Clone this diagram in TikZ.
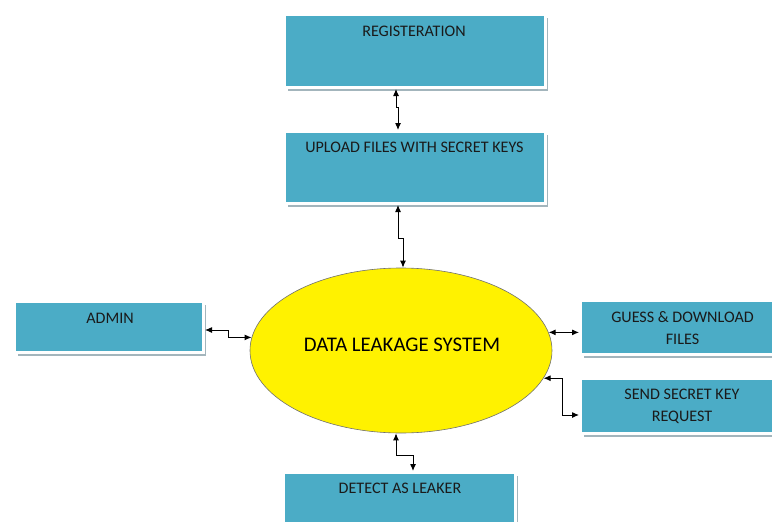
\documentclass[tikz,border=0pt]{standalone}
\usepackage{fontspec}
\setmainfont{Carlito}
\usetikzlibrary{arrows.meta,shadows,shapes.geometric}
\definecolor{boxteal}{HTML}{4BACC6}
\definecolor{framegray}{HTML}{D6D6D6}
\definecolor{shadowgray}{HTML}{A3B5BC}
\definecolor{txt}{HTML}{1A1A1A}
\definecolor{ellborder}{HTML}{707070}
\begin{document}
\begin{tikzpicture}[x=1pt,y=-1pt,
  tbox/.style={rectangle, fill=boxteal, draw=framegray, double=white,
    double distance=2.6pt, line width=0.35pt, outer sep=1.65pt, inner sep=0pt,
    drop shadow={shadow xshift=3pt, shadow yshift=-3.5pt, fill=shadowgray, opacity=1}},
  ttext/.style={text=txt, inner sep=0pt, align=center, font=\fontsize{16.1}{22}\selectfont},
  etext/.style={text=black, inner sep=0pt, font=\fontsize{20.8}{24}\selectfont},
  conn/.style={arrows={Latex[length=7pt,width=6pt]-Latex[length=7pt,width=6pt]}, line width=1pt, black}]
\useasboundingbox (0,0) rectangle (772,522);
\clip (0,0) rectangle (772,522);

% boxes
\node[tbox, minimum width=260.7pt, minimum height=72.7pt] (reg) at (415,51) {};
\node[tbox, minimum width=260.7pt, minimum height=71.7pt] (upload) at (415,167.5) {};
\node[tbox, minimum width=188.7pt, minimum height=50.7pt] (admin) at (109,327) {};
\node[tbox, minimum width=200pt, minimum height=53.7pt] (guess) at (680.65,327.5) {};
\node[tbox, minimum width=200pt, minimum height=54.7pt] (send) at (680.65,406) {};
\node[tbox, minimum width=231.7pt, minimum height=80pt] (detect) at (399.5,512.65) {};

% ellipse
\node[ellipse, fill=yellow, draw=ellborder, line width=0.6pt, inner sep=0pt,
      minimum width=302pt, minimum height=165pt] (ell) at (401,350.5) {};

% texts
\node[ttext] (regt) at (414,31) {REGISTERATION};
\node[ttext] (uploadt) at (414.5,147) {UPLOAD FILES WITH SECRET KEYS};
\node[ttext] (admint) at (110,318) {ADMIN};
\node[ttext] (guesst) at (682.5,328) {GUESS \& DOWNLOAD\\FILES};
\node[ttext] (sendt) at (682,406) {SEND SECRET KEY\\REQUEST};
\node[ttext] (detectt) at (400,488) {DETECT AS LEAKER};
\node[etext] (ellt) at (402,345) {DATA LEAKAGE SYSTEM};

% connectors
\draw[conn] ([xshift=-19pt]reg.south) -- ++(0,18) -- ++(2,0) -- ([xshift=-17pt]upload.north);
\draw[conn] ([xshift=-17pt]upload.south) -- ++(0,33) -- ++(5,0) -- ([xshift=2pt]ell.north);
\draw[conn] ([yshift=-3pt]admin.east) -- ++(23,0) |- (ell.175);
\draw[conn] (ell.7.6) -- (ell.7.6 -| guess.west);
\draw[conn] (ell.-11.4) -- ++(19,0) |- ([yshift=-9pt]send.west);
\draw[conn] ([xshift=-5pt]ell.south) -- ++(0,22) -| ([xshift=13.5pt]detect.north);
\end{tikzpicture}
\end{document}
